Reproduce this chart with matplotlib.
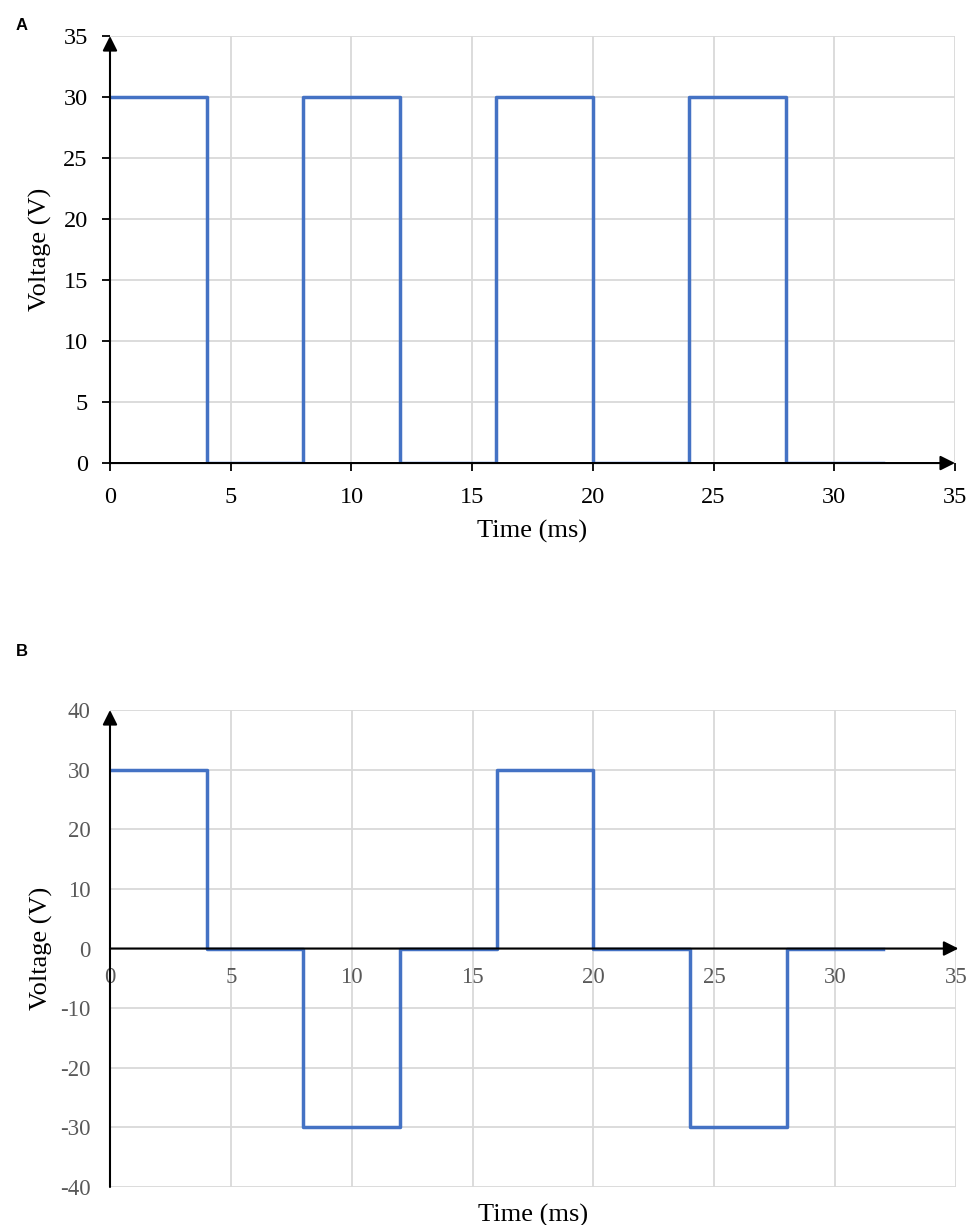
import matplotlib.pyplot as plt

plt.rcParams['axes.unicode_minus'] = False

# zaman noktalari (ms) ve gerilim degerleri (V)
zaman = [0, 4, 8, 12, 16, 20, 24, 28, 32]
gerilim_a = [30, 0, 30, 0, 30, 0, 30, 0, 0]
gerilim_b = [30, 0, -30, 0, 30, 0, -30, 0, 0]

x_ticks = [0, 5, 10, 15, 20, 25, 30, 35]
y_ticks_a = [0, 5, 10, 15, 20, 25, 30, 35]
y_ticks_b = [-40, -30, -20, -10, 0, 10, 20, 30, 40]

mavi = '#4472C4'
gri_grid = '#d9d9d9'
serif = ['Liberation Serif', 'DejaVu Serif']

fig = plt.figure(figsize=(9.76, 12.25), dpi=100)

# ---- Panel A ----
ax1 = fig.add_axes([0.1127, 0.622, 0.8658, 0.3486])
ax1.step(zaman, gerilim_a, where='post', color=mavi, lw=2.5, zorder=3)
ax1.set_xlim(0, 35)
ax1.set_ylim(0, 35)
ax1.set_xticks(x_ticks)
ax1.set_yticks(y_ticks_a)
ax1.grid(True, color=gri_grid, lw=1.3, zorder=0)
for s in ax1.spines.values():
    s.set_visible(False)
ax1.tick_params(axis='both', direction='out', length=6, width=1.3, color='black',
                labelsize=17.5, labelcolor='black')
ax1.tick_params(axis='x', pad=11)
ax1.tick_params(axis='y', pad=10)
for lab in ax1.get_xticklabels() + ax1.get_yticklabels():
    lab.set_family(serif)
ax1.annotate('', xy=(0, 35), xytext=(0, 0), annotation_clip=False,
             arrowprops=dict(arrowstyle='-|>', color='black', lw=1.5,
                             mutation_scale=22, shrinkA=0, shrinkB=0), zorder=4)
ax1.annotate('', xy=(35, 0), xytext=(0, 0), annotation_clip=False,
             arrowprops=dict(arrowstyle='-|>', color='black', lw=1.5,
                             mutation_scale=22, shrinkA=0, shrinkB=0), zorder=4)
ax1.set_xlabel('Time (ms)', fontsize=19, family=serif, labelpad=9)
ax1.set_ylabel('Voltage (V)', fontsize=19, family=serif, labelpad=8)

# ---- Panel B ----
ax2 = fig.add_axes([0.1127, 0.031, 0.8668, 0.3894])
ax2.step(zaman, gerilim_b, where='post', color=mavi, lw=2.5, zorder=3)
ax2.set_xlim(0, 35)
ax2.set_ylim(-40, 40)
ax2.set_xticks(x_ticks)
ax2.set_yticks(y_ticks_b)
ax2.grid(True, color=gri_grid, lw=1.3, zorder=0)
for s in ax2.spines.values():
    s.set_visible(False)
ax2.spines['bottom'].set_position(('data', 0))
ax2.tick_params(axis='both', length=0, labelsize=16.5, labelcolor='#595959')
ax2.tick_params(axis='x', pad=13)
ax2.tick_params(axis='y', pad=14)
for lab in ax2.get_xticklabels() + ax2.get_yticklabels():
    lab.set_family(serif)
ax2.annotate('', xy=(0, 40), xytext=(0, -40), annotation_clip=False,
             arrowprops=dict(arrowstyle='-|>', color='black', lw=1.5,
                             mutation_scale=22, shrinkA=0, shrinkB=0), zorder=4)
ax2.annotate('', xy=(35.1, 0), xytext=(0, 0), annotation_clip=False,
             arrowprops=dict(arrowstyle='-|>', color='black', lw=1.5,
                             mutation_scale=22, shrinkA=0, shrinkB=0), zorder=4)
ax2.set_xlabel('Time (ms)', fontsize=19, family=serif)
ax2.xaxis.set_label_coords(0.5, -0.036)
ax2.set_ylabel('Voltage (V)', fontsize=19, family=serif)
ax2.yaxis.set_label_coords(-0.067, 0.5)

# panel harfleri
fig.text(0.016, 0.985, 'A', fontsize=12, fontweight='bold',
         family=['Liberation Sans', 'DejaVu Sans'], va='top')
fig.text(0.016, 0.474, 'B', fontsize=12, fontweight='bold',
         family=['Liberation Sans', 'DejaVu Sans'], va='top')

fig.savefig('out.png', dpi=100)
